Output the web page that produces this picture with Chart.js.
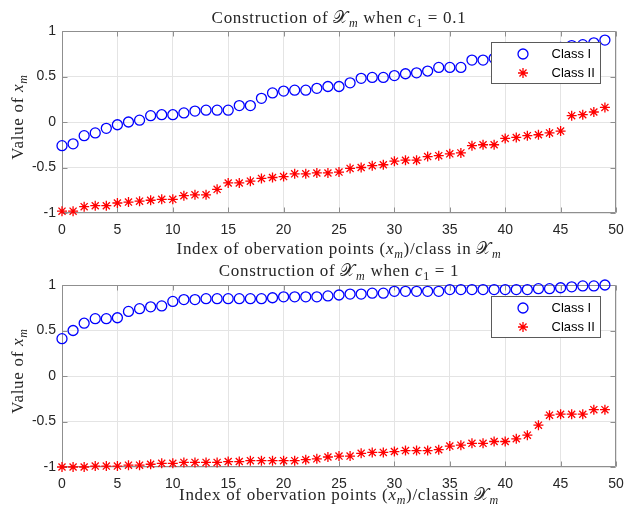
<!DOCTYPE html>
<html><head><meta charset="utf-8">
<script src="https://cdn.jsdelivr.net/npm/chart.js@4.4.1/dist/chart.umd.min.js"></script>
<style>
html,body{margin:0;padding:0;background:#fff;}
#wrap{position:relative;width:627px;height:510px;overflow:hidden;}
canvas{position:absolute;left:0;}
#c1{top:0;} #c2{top:258px;}
</style></head><body>
<div id="wrap"><canvas id="c1" width="627" height="258"></canvas><canvas id="c2" width="627" height="252"></canvas></div>
<script>
const indices = [0,1,2,3,4,5,6,7,8,9,10,11,12,13,14,15,16,17,18,19,20,21,22,23,24,25,26,27,28,29,30,31,32,33,34,35,36,37,38,39,40,41,42,43,44,45,46,47,48,49];
const xTicks = [0,5,10,15,20,25,30,35,40,45,50];
const yTicks = [-1,-0.5,0,0.5,1];
const seriesNames = ['Class I','Class II'];

const topClassI = [-0.26,-0.24,-0.15,-0.12,-0.07,-0.03,0.00,0.02,0.07,0.08,
  0.08,0.10,0.12,0.13,0.13,0.13,0.18,0.18,0.26,0.32,
  0.34,0.35,0.35,0.37,0.39,0.39,0.43,0.48,0.49,0.49,
  0.51,0.53,0.54,0.56,0.60,0.60,0.60,0.68,0.68,0.70,
  0.72,0.74,0.76,0.78,0.80,0.82,0.84,0.85,0.87,0.90];
const topClassII = [-0.98,-0.98,-0.93,-0.92,-0.92,-0.89,-0.88,-0.87,-0.86,-0.85,
  -0.85,-0.81,-0.80,-0.80,-0.74,-0.67,-0.67,-0.65,-0.62,-0.61,
  -0.60,-0.57,-0.57,-0.56,-0.56,-0.55,-0.51,-0.50,-0.48,-0.47,
  -0.43,-0.42,-0.42,-0.38,-0.37,-0.35,-0.34,-0.26,-0.25,-0.25,
  -0.18,-0.17,-0.15,-0.14,-0.12,-0.10,0.07,0.08,0.11,0.16];
const bottomClassI = [0.41,0.50,0.58,0.63,0.63,0.64,0.71,0.74,0.76,0.77,
  0.82,0.84,0.84,0.85,0.85,0.85,0.85,0.85,0.85,0.86,
  0.87,0.87,0.87,0.87,0.88,0.89,0.90,0.90,0.91,0.91,
  0.93,0.93,0.93,0.93,0.93,0.95,0.95,0.95,0.95,0.95,
  0.95,0.95,0.95,0.96,0.96,0.97,0.98,0.99,0.99,1.00];
const bottomClassII = [-1.00,-1.00,-1.00,-0.99,-0.99,-0.99,-0.98,-0.98,-0.97,-0.96,
  -0.96,-0.95,-0.95,-0.95,-0.95,-0.94,-0.94,-0.93,-0.93,-0.93,
  -0.93,-0.93,-0.92,-0.91,-0.89,-0.88,-0.88,-0.85,-0.84,-0.84,
  -0.83,-0.82,-0.82,-0.82,-0.81,-0.77,-0.76,-0.74,-0.74,-0.72,
  -0.72,-0.69,-0.65,-0.54,-0.43,-0.42,-0.42,-0.42,-0.37,-0.37];

// Text pieces: [text, style] with r = roman, i = italic, s = subscript, si = italic subscript
const topTitle = [['Construction of ','r'],['𝒳','r'],['m','si'],[' when ','r'],['c','i'],['1','s'],[' = 0.1','r']];
const bottomTitle = [['Construction of ','r'],['𝒳','r'],['m','si'],[' when ','r'],['c','i'],['1','s'],[' = 1','r']];
const yTitle = [['Value of ','r'],['x','i'],['m','si']];
const topXTitle = [['Index of obervation points (','r'],['x','i'],['m','si'],[')/class in ','r'],['𝒳','r'],['m','si']];
const bottomXTitle = [['Index of obervation points (','r'],['x','i'],['m','si'],[')/classin ','r'],['𝒳','r'],['m','si']];

const TEXT = '#262626';
const SERIF = "'Liberation Serif', 'DejaVu Serif', serif";
const SANS = "'Liberation Sans', Arial, sans-serif";

function drawRich(ctx, segs, x, y, rotate) {
  const base = 17, sub = 12, shift = 4;
  const fonts = {r: base + 'px ' + SERIF, i: 'italic ' + base + 'px ' + SERIF,
                 s: sub + 'px ' + SERIF, si: 'italic ' + sub + 'px ' + SERIF};
  ctx.save();
  ctx.translate(x, y);
  if (rotate) ctx.rotate(rotate);
  if ('letterSpacing' in ctx) ctx.letterSpacing = '0.7px';
  let total = 0;
  const widths = segs.map(([t, st]) => { ctx.font = fonts[st]; const w = ctx.measureText(t).width; total += w; return w; });
  let cx = -total / 2;
  ctx.fillStyle = TEXT;
  ctx.textBaseline = 'alphabetic';
  ctx.textAlign = 'left';
  segs.forEach(([t, st], k) => {
    ctx.font = fonts[st];
    ctx.fillText(t, cx, (st === 's' || st === 'si') ? shift : 0);
    cx += widths[k];
  });
  ctx.restore();
}

const framePlugin = {
  id: 'frame',
  beforeDatasetsDraw(chart) {
    const {ctx, chartArea: a, scales: {x, y}} = chart;
    ctx.save();
    ctx.strokeStyle = '#8f8f8f';
    ctx.lineWidth = 1;
    const L = Math.round(a.left) + 0.5, R = Math.round(a.right) - 0.5;
    const T = Math.round(a.top) + 0.5, B = Math.round(a.bottom) - 0.5;
    ctx.beginPath();
    ctx.rect(L, T, R - L, B - T);
    xTicks.forEach(v => {
      const p = Math.round(x.getPixelForValue(v)) + 0.5;
      ctx.moveTo(p, B); ctx.lineTo(p, B - 5);
      ctx.moveTo(p, T); ctx.lineTo(p, T + 5);
    });
    yTicks.forEach(v => {
      const p = Math.round(y.getPixelForValue(v)) + 0.5;
      ctx.moveTo(L, p); ctx.lineTo(L + 5, p);
      ctx.moveTo(R, p); ctx.lineTo(R - 5, p);
    });
    ctx.stroke();
    ctx.restore();
  }
};

const legendPlugin = {
  id: 'boxLegend',
  afterDatasetsDraw(chart) {
    const {ctx, chartArea: a} = chart;
    const bx = Math.round(a.right) - 15 - 109.5, by = Math.round(a.top) + 11.5, bw = 109, bh = 41;
    ctx.save();
    ctx.fillStyle = '#fff';
    ctx.fillRect(bx, by, bw, bh);
    ctx.strokeStyle = '#5a5a5a';
    ctx.lineWidth = 1;
    ctx.strokeRect(bx, by, bw, bh);
    const mx = bx + 31.5, y1 = by + 11.5, y2 = by + 30.5;
    ctx.strokeStyle = '#0000ff'; ctx.lineWidth = 1.3;
    ctx.beginPath(); ctx.arc(mx, y1, 5, 0, Math.PI * 2); ctx.stroke();
    ctx.strokeStyle = '#ff0000';
    ctx.beginPath();
    const r = 5, d = r * Math.SQRT1_2;
    ctx.moveTo(mx - r, y2); ctx.lineTo(mx + r, y2);
    ctx.moveTo(mx, y2 - r); ctx.lineTo(mx, y2 + r);
    ctx.moveTo(mx - d, y2 - d); ctx.lineTo(mx + d, y2 + d);
    ctx.moveTo(mx - d, y2 + d); ctx.lineTo(mx + d, y2 - d);
    ctx.stroke();
    ctx.fillStyle = '#000';
    ctx.font = "13px " + SANS;
    ctx.textBaseline = 'middle';
    ctx.textAlign = 'left';
    ctx.fillText(seriesNames[0], bx + 60, y1);
    ctx.fillText(seriesNames[1], bx + 60, y2);
    ctx.restore();
  }
};

function makeChart(id, classI, classII, title, xTitle, geom) {
  const pts = arr => indices.map((v, i) => ({x: v, y: arr[i]}));
  const textPlugin = {
    id: 'richTitles',
    afterDraw(chart) {
      const {ctx, chartArea: a} = chart;
      const cx = (a.left + a.right) / 2, cy = (a.top + a.bottom) / 2;
      drawRich(ctx, title, cx, geom.titleBase);
      drawRich(ctx, xTitle, cx, geom.xTitleBase);
      drawRich(ctx, yTitle, 23.3, cy - 5, -Math.PI / 2);
    }
  };
  return new Chart(document.getElementById(id), {
    type: 'scatter',
    data: {
      datasets: [
        {label: seriesNames[0], data: pts(classI), pointStyle: 'circle', pointRadius: 5,
         borderColor: '#0000ff', backgroundColor: 'rgba(0,0,0,0)', pointBorderWidth: 1.3, clip: false, showLine: false},
        {label: seriesNames[1], data: pts(classII), pointStyle: 'star', pointRadius: 5,
         borderColor: '#ff0000', backgroundColor: '#ff0000', pointBorderWidth: 1.3, clip: false, showLine: false}
      ]
    },
    options: {
      responsive: false, animation: false, events: [],
      devicePixelRatio: 1,
      layout: {padding: {left: 0, right: 11, top: geom.plotTop, bottom: 0}},
      plugins: {legend: {display: false}, tooltip: {enabled: false}, title: {display: false}},
      scales: {
        x: {
          type: 'linear', min: 0, max: 50,
          afterBuildTicks: s => { s.ticks = xTicks.map(v => ({value: v})); },
          afterFit: s => { s.height = geom.xHeight; s.paddingLeft = 0; s.paddingRight = 0; },
          grid: {color: '#e4e4e4', drawTicks: false},
          border: {display: false},
          ticks: {color: TEXT, font: {family: SANS, size: 14}, padding: 9, maxRotation: 0}
        },
        y: {
          type: 'linear', min: -1, max: 1,
          afterBuildTicks: s => { s.ticks = yTicks.map(v => ({value: v})); },
          afterFit: s => { s.width = 62; s.paddingTop = 0; s.paddingBottom = 0; },
          grid: {color: '#e4e4e4', drawTicks: false},
          border: {display: false},
          ticks: {color: TEXT, font: {family: SANS, size: 14}, padding: 6, callback: v => String(v)}
        }
      }
    },
    plugins: [framePlugin, legendPlugin, textPlugin]
  });
}

makeChart('c1', topClassI, topClassII, topTitle, topXTitle,
  {plotTop: 31, xHeight: 45, titleBase: 22.7, xTitleBase: 254});
makeChart('c2', bottomClassI, bottomClassII, bottomTitle, bottomXTitle,
  {plotTop: 27, xHeight: 43, titleBase: 18.3, xTitleBase: 242});
</script>
</body></html>
